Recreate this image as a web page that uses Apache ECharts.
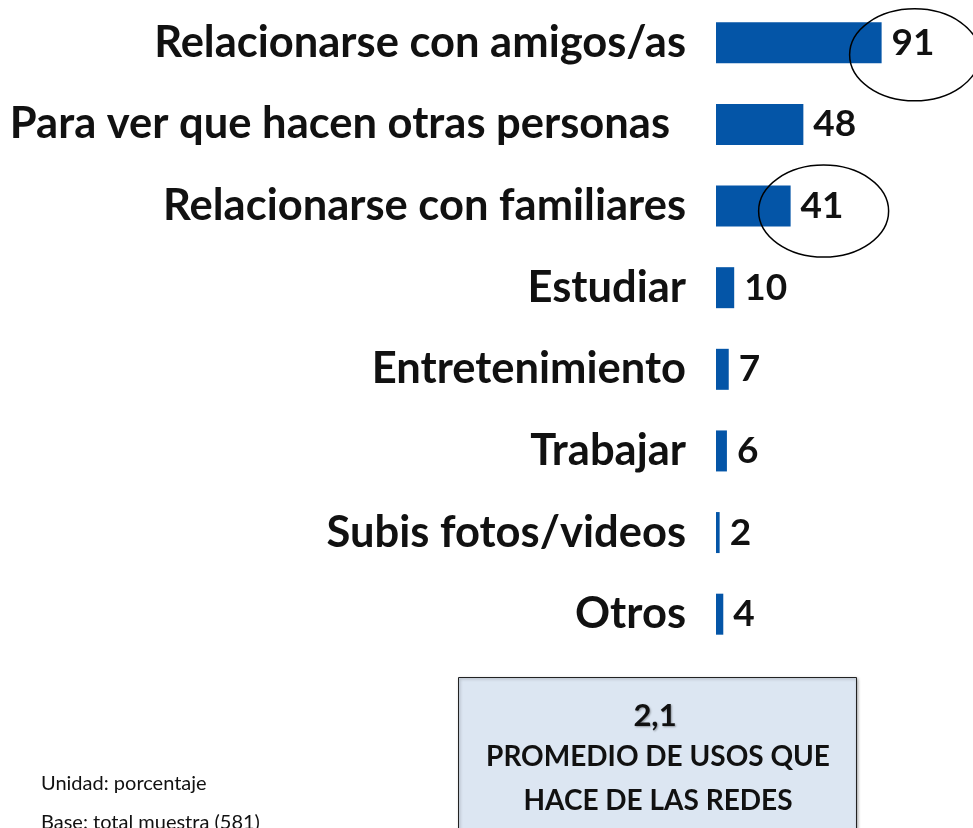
<!DOCTYPE html>
<html>
<head>
<meta charset="utf-8">
<script src="https://cdn.jsdelivr.net/npm/echarts@6/dist/echarts.min.js"></script>
<style>
  html, body { margin: 0; padding: 0; background: #fff; }
  #chart { width: 973px; height: 828px; }
</style>
</head>
<body>
<div id="chart"></div>
<script>
// usos de las redes sociales (porcentaje)
const categories = [
  'Relacionarse con amigos/as',
  'Para ver que hacen otras personas',
  'Relacionarse con familiares',
  'Estudiar',
  'Entretenimiento',
  'Trabajar',
  'Subis fotos/videos',
  'Otros'
];
const values = [91, 48, 41, 10, 7, 6, 2, 4];
// categorías marcadas con un círculo
const circled = [0, 2];
const promedio = '2,1';
const promedioLines = ['PROMEDIO DE USOS QUE', 'HACE DE LAS REDES'];
const notes = ['Unidad: porcentaje', 'Base: total muestra (581)'];

const FONT = 'Lato, "Open Sans", sans-serif';

var chart = echarts.init(document.getElementById('chart'));

let option = {
  animation: false,
  grid: {
    left: 716,
    top: 2,
    bottom: 173,
    right: 75
  },
  xAxis: {
    type: 'value',
    min: 0,
    max: 100,
    show: false
  },
  yAxis: {
    type: 'category',
    data: categories,
    inverse: true,
    axisLine: { show: false },
    axisTick: { show: false },
    axisLabel: {
      margin: 30,
      fontSize: 43.5,
      fontWeight: 'bold',
      fontFamily: FONT,
      color: '#111',
      formatter: function (v, i) {
        // la segunda etiqueta queda algo más a la izquierda en el original
        return i === 1 ? '{b|' + v + '}' : v;
      },
      rich: {
        b: {
          fontSize: 43.5,
          fontWeight: 'bold',
          fontFamily: FONT,
          color: '#111',
          padding: [0, 16, 0, 0]
        }
      }
    }
  },
  series: [
    {
      type: 'bar',
      data: values,
      barWidth: 41,
      itemStyle: { color: '#0455a7' },
      label: {
        show: true,
        position: 'right',
        distance: 10,
        fontSize: 37,
        fontWeight: 'bold',
        fontFamily: FONT,
        color: '#111'
      }
    }
  ]
};
chart.setOption(option);

// elipses alrededor de los valores destacados + recuadro de promedio
const ellipseDy = [12, 5];
let graphics = circled.map(function (i, k) {
  let p = chart.convertToPixel({ xAxisIndex: 0, yAxisIndex: 0 }, [values[i], i]);
  return {
    type: 'ellipse',
    shape: { cx: p[0] + 33, cy: p[1] + ellipseDy[k], rx: 65, ry: 46 },
    style: { fill: 'none', stroke: '#000', lineWidth: 1.5 },
    z: 10
  };
});

graphics.push({
  type: 'rect',
  shape: { x: 458.5, y: 677.5, width: 398, height: 170 },
  style: {
    fill: '#dce6f2',
    stroke: '#222',
    lineWidth: 1,
    shadowBlur: 3,
    shadowOffsetX: 1,
    shadowOffsetY: 1,
    shadowColor: 'rgba(0,0,0,0.35)'
  }
});
graphics.push({
  type: 'text',
  x: 655,
  y: 716,
  style: {
    text: promedio,
    font: 'bold 31px ' + FONT,
    fill: '#111',
    align: 'center',
    verticalAlign: 'middle',
    textShadowColor: 'rgba(0,0,0,0.35)',
    textShadowOffsetX: 1,
    textShadowOffsetY: 1,
    textShadowBlur: 2
  }
});
promedioLines.forEach(function (t, k) {
  graphics.push({
    type: 'text',
    x: 658,
    y: 757 + k * 44,
    style: {
      text: t,
      font: 'bold 28px ' + FONT,
      fill: '#111',
      align: 'center',
      verticalAlign: 'middle'
    }
  });
});
notes.forEach(function (t, k) {
  graphics.push({
    type: 'text',
    x: 41,
    y: 784 + k * 39,
    style: {
      text: t,
      font: '20px ' + FONT,
      fill: '#111',
      align: 'left',
      verticalAlign: 'middle'
    }
  });
});

chart.setOption({ graphic: graphics });
</script>
</body>
</html>
